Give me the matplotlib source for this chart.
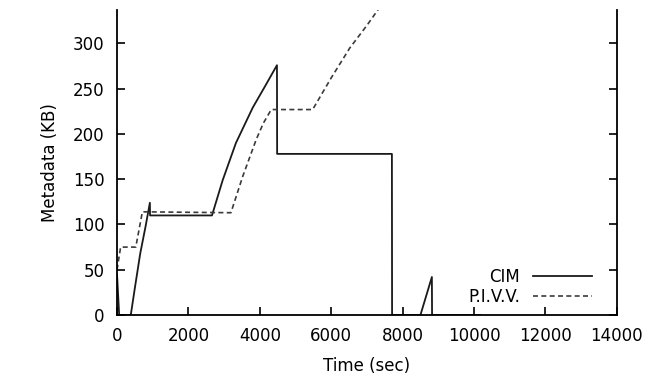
import matplotlib.pyplot as plt

# CIM series (solid)
cim_t = [0, 60, 385, 500, 650, 800, 920, 925, 2660, 2960, 3330, 3800, 4150, 4480, 4485,
         7700, 7705, 8500, 8820, 8825, 10170]
cim_kb = [45, 0, 0, 30, 68, 98, 124, 110, 110, 149, 190, 229, 253, 276, 178,
          178, 0, 0, 42, 0, 0]

# P.I.V.V. series (dashed)
pivv_t = [0, 100, 525, 710, 3190, 3520, 3900, 4100, 4320, 5480, 6000, 6520, 7000, 7360]
pivv_kb = [50, 75, 75, 114, 113, 153, 194, 212, 227, 227, 262, 295, 320, 340]

x_ticks = [0, 2000, 4000, 6000, 8000, 10000, 12000, 14000]
y_ticks = [0, 50, 100, 150, 200, 250, 300]

plt.rcParams['font.family'] = ['DejaVu Sans']

fig = plt.figure(figsize=(6.52, 3.77), dpi=100)
ax = fig.add_axes([0.1795, 0.1645, 0.7665, 0.809])

# plot lines
ax.plot(cim_t, cim_kb, color='#1a1a1a', lw=1.3, label='CIM')
ax.plot(pivv_t, pivv_kb, color='#3a3a3a', lw=1.2, ls=(0, (3, 2)), label='P.I.V.V.')

ax.set_xlim(0, 14000)
ax.set_ylim(0, 337)
ax.set_xticks(x_ticks)
ax.set_yticks(y_ticks)
ax.tick_params(direction='in', length=6, width=1.2, labelsize=12, pad=9,
               top=False, right=True)
ax.spines['top'].set_visible(False)
for s in ['left', 'right', 'bottom']:
    ax.spines[s].set_linewidth(1.3)

ax.set_xlabel('Time (sec)', fontsize=12, labelpad=8)
ax.set_ylabel('Metadata (KB)', fontsize=12, labelpad=10)

ax.legend(loc='lower right', markerfirst=False, frameon=False, fontsize=12,
          handlelength=3.5, handletextpad=0.8, borderaxespad=0, borderpad=0,
          labelspacing=0.1, bbox_to_anchor=(0.95, 0.03))

plt.savefig('out.png', dpi=100)
